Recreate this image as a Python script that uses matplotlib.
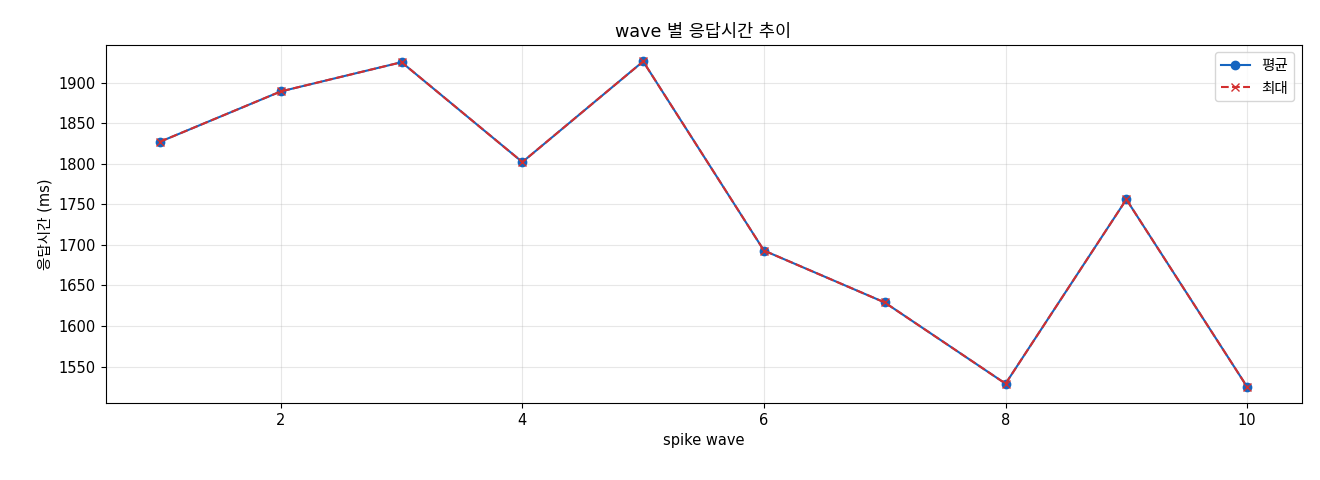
import matplotlib
matplotlib.use('Agg')
import matplotlib.pyplot as plt

plt.rcParams['font.family'] = ['DejaVu Sans', 'Noto Sans CJK KR']
plt.rcParams['font.size'] = 10.5

waves = [1, 2, 3, 4, 5, 6, 7, 8, 9, 10]
avg_ms = [1827, 1889, 1925, 1802, 1926, 1693, 1629, 1529, 1756, 1525]
max_ms = [1827, 1889, 1925, 1802, 1926, 1693, 1629, 1529, 1756, 1525]

fig, ax = plt.subplots(figsize=(13.2, 4.8), dpi=100)
ax.plot(waves, avg_ms, marker='o', color='#1565c0', label='평균')
ax.plot(waves, max_ms, marker='x', linestyle='--', color='#d32f2f', label='최대')

ax.set_title('wave 별 응답시간 추이')
ax.set_xlabel('spike wave')
ax.set_ylabel('응답시간 (ms)')
ax.grid(True, alpha=0.3)
ax.legend(loc='upper right')

fig.subplots_adjust(left=0.08, right=0.986, top=0.906, bottom=0.16)
plt.savefig('out.png')
